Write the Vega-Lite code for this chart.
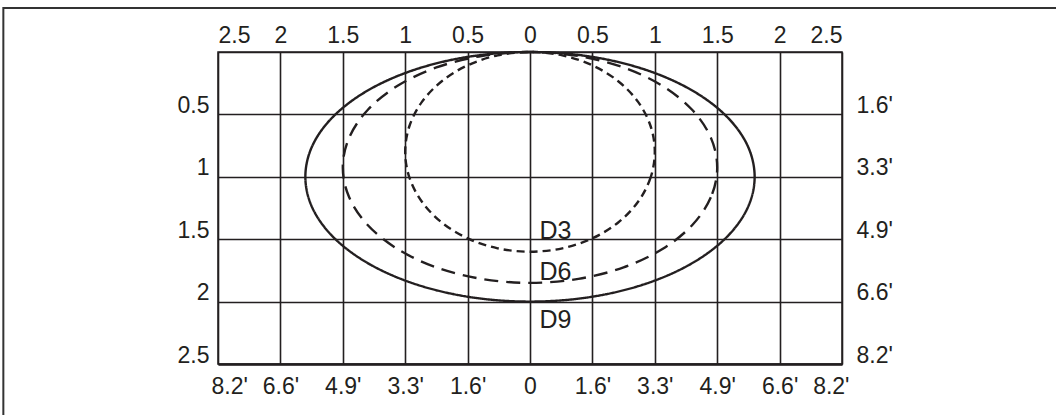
{
  "$schema": "https://vega.github.io/schema/vega-lite/v6.json",
  "width": 624,
  "height": 312,
  "autosize": {"type": "none"},
  "padding": {"left": 218, "top": 52, "right": 214, "bottom": 51},
  "background": "white",
  "config": {
    "view": {"stroke": "#231f20", "strokeWidth": 1.5},
    "axis": {
      "labelFont": "Liberation Sans",
      "labelFontSize": 23,
      "labelColor": "#231f20",
      "ticks": false,
      "domain": false,
      "title": null,
      "gridColor": "#231f20",
      "gridWidth": 1.6,
      "gridOpacity": 1
    }
  },
  "datasets": {
    "curves": [
      {"series": "D9", "i": 0, "x": 1.8, "depth": 1},
      {"series": "D9", "i": 1, "x": 1.739, "depth": 1.259},
      {"series": "D9", "i": 2, "x": 1.559, "depth": 1.5},
      {"series": "D9", "i": 3, "x": 1.273, "depth": 1.707},
      {"series": "D9", "i": 4, "x": 0.9, "depth": 1.866},
      {"series": "D9", "i": 5, "x": 0.466, "depth": 1.966},
      {"series": "D9", "i": 6, "x": 0, "depth": 2},
      {"series": "D9", "i": 7, "x": -0.466, "depth": 1.966},
      {"series": "D9", "i": 8, "x": -0.9, "depth": 1.866},
      {"series": "D9", "i": 9, "x": -1.273, "depth": 1.707},
      {"series": "D9", "i": 10, "x": -1.559, "depth": 1.5},
      {"series": "D9", "i": 11, "x": -1.739, "depth": 1.259},
      {"series": "D9", "i": 12, "x": -1.8, "depth": 1},
      {"series": "D9", "i": 13, "x": -1.739, "depth": 0.741},
      {"series": "D9", "i": 14, "x": -1.559, "depth": 0.5},
      {"series": "D9", "i": 15, "x": -1.273, "depth": 0.293},
      {"series": "D9", "i": 16, "x": -0.9, "depth": 0.134},
      {"series": "D9", "i": 17, "x": -0.466, "depth": 0.034},
      {"series": "D9", "i": 18, "x": 0, "depth": 0},
      {"series": "D9", "i": 19, "x": 0.466, "depth": 0.034},
      {"series": "D9", "i": 20, "x": 0.9, "depth": 0.134},
      {"series": "D9", "i": 21, "x": 1.273, "depth": 0.293},
      {"series": "D9", "i": 22, "x": 1.559, "depth": 0.5},
      {"series": "D9", "i": 23, "x": 1.739, "depth": 0.741},
      {"series": "D6", "i": 0, "x": 1.5, "depth": 0.925},
      {"series": "D6", "i": 1, "x": 1.449, "depth": 1.164},
      {"series": "D6", "i": 2, "x": 1.299, "depth": 1.388},
      {"series": "D6", "i": 3, "x": 1.061, "depth": 1.579},
      {"series": "D6", "i": 4, "x": 0.75, "depth": 1.726},
      {"series": "D6", "i": 5, "x": 0.388, "depth": 1.818},
      {"series": "D6", "i": 6, "x": 0, "depth": 1.85},
      {"series": "D6", "i": 7, "x": -0.388, "depth": 1.818},
      {"series": "D6", "i": 8, "x": -0.75, "depth": 1.726},
      {"series": "D6", "i": 9, "x": -1.061, "depth": 1.579},
      {"series": "D6", "i": 10, "x": -1.299, "depth": 1.388},
      {"series": "D6", "i": 11, "x": -1.449, "depth": 1.164},
      {"series": "D6", "i": 12, "x": -1.5, "depth": 0.925},
      {"series": "D6", "i": 13, "x": -1.449, "depth": 0.686},
      {"series": "D6", "i": 14, "x": -1.299, "depth": 0.463},
      {"series": "D6", "i": 15, "x": -1.061, "depth": 0.271},
      {"series": "D6", "i": 16, "x": -0.75, "depth": 0.124},
      {"series": "D6", "i": 17, "x": -0.388, "depth": 0.032},
      {"series": "D6", "i": 18, "x": 0, "depth": 0},
      {"series": "D6", "i": 19, "x": 0.388, "depth": 0.032},
      {"series": "D6", "i": 20, "x": 0.75, "depth": 0.124},
      {"series": "D6", "i": 21, "x": 1.061, "depth": 0.271},
      {"series": "D6", "i": 22, "x": 1.299, "depth": 0.463},
      {"series": "D6", "i": 23, "x": 1.449, "depth": 0.686},
      {"series": "D3", "i": 0, "x": 1, "depth": 0.8},
      {"series": "D3", "i": 1, "x": 0.966, "depth": 1.007},
      {"series": "D3", "i": 2, "x": 0.866, "depth": 1.2},
      {"series": "D3", "i": 3, "x": 0.707, "depth": 1.366},
      {"series": "D3", "i": 4, "x": 0.5, "depth": 1.493},
      {"series": "D3", "i": 5, "x": 0.259, "depth": 1.573},
      {"series": "D3", "i": 6, "x": 0, "depth": 1.6},
      {"series": "D3", "i": 7, "x": -0.259, "depth": 1.573},
      {"series": "D3", "i": 8, "x": -0.5, "depth": 1.493},
      {"series": "D3", "i": 9, "x": -0.707, "depth": 1.366},
      {"series": "D3", "i": 10, "x": -0.866, "depth": 1.2},
      {"series": "D3", "i": 11, "x": -0.966, "depth": 1.007},
      {"series": "D3", "i": 12, "x": -1, "depth": 0.8},
      {"series": "D3", "i": 13, "x": -0.966, "depth": 0.593},
      {"series": "D3", "i": 14, "x": -0.866, "depth": 0.4},
      {"series": "D3", "i": 15, "x": -0.707, "depth": 0.234},
      {"series": "D3", "i": 16, "x": -0.5, "depth": 0.107},
      {"series": "D3", "i": 17, "x": -0.259, "depth": 0.027},
      {"series": "D3", "i": 18, "x": 0, "depth": 0},
      {"series": "D3", "i": 19, "x": 0.259, "depth": 0.027},
      {"series": "D3", "i": 20, "x": 0.5, "depth": 0.107},
      {"series": "D3", "i": 21, "x": 0.707, "depth": 0.234},
      {"series": "D3", "i": 22, "x": 0.866, "depth": 0.4},
      {"series": "D3", "i": 23, "x": 0.966, "depth": 0.593}
    ],
    "labels": [
      {"name": "D3", "x": 0.076, "depth": 1.5},
      {"name": "D6", "x": 0.076, "depth": 1.825},
      {"name": "D9", "x": 0.076, "depth": 2.215}
    ]
  },
  "resolve": {"axis": {"x": "independent", "y": "independent"}},
  "layer": [
    {
      "data": {"values": [{}]},
      "mark": {"type": "rect", "filled": false, "stroke": "#333333", "strokeWidth": 2},
      "encoding": {
        "x": {"datum": -4.22, "type": "quantitative", "scale": {"domain": [-2.5, 2.5], "nice": false, "zero": false}, "axis": null},
        "x2": {"datum": 4.6},
        "y": {"datum": -0.353, "type": "quantitative", "scale": {"domain": [0, 2.5], "reverse": true, "nice": false, "zero": false}, "axis": null},
        "y2": {"datum": 3.2}
      }
    },
    {
      "data": {"name": "curves"},
      "mark": {"type": "line", "interpolate": "cardinal-closed", "strokeWidth": 2.4, "color": "#231f20"},
      "encoding": {
        "x": {
          "field": "x", "type": "quantitative",
          "scale": {"domain": [-2.5, 2.5], "nice": false, "zero": false},
          "axis": {
            "orient": "top",
            "values": [-2.5, -2, -1.5, -1, -0.5, 0, 0.5, 1, 1.5, 2, 2.5],
            "labelExpr": "format(abs(datum.value), '~g')",
            "grid": true,
            "labelPadding": 5,
            "labelBaseline": "bottom"
          }
        },
        "y": {
          "field": "depth", "type": "quantitative",
          "scale": {"domain": [0, 2.5], "reverse": true, "nice": false, "zero": false},
          "axis": {
            "orient": "left",
            "values": [0, 0.5, 1, 1.5, 2, 2.5],
            "labelExpr": "datum.value == 0 ? '' : format(datum.value, '~g')",
            "grid": true,
            "labelPadding": 9,
            "labelBaseline": "alphabetic",
            "labelOffset": -2
          }
        },
        "order": {"field": "i", "type": "quantitative"},
        "strokeDash": {
          "field": "series", "type": "nominal",
          "scale": {"domain": ["D3", "D6", "D9"], "range": [[8, 5], [14, 8], [1, 0]]},
          "legend": null
        }
      }
    },
    {
      "data": {"name": "labels"},
      "mark": {"type": "text", "align": "left", "baseline": "alphabetic", "font": "Liberation Sans", "fontSize": 25, "color": "#231f20"},
      "encoding": {
        "x": {
          "field": "x", "type": "quantitative",
          "scale": {"domain": [-2.5, 2.5], "nice": false, "zero": false},
          "axis": {
            "orient": "bottom",
            "values": [-2.5, -2, -1.5, -1, -0.5, 0, 0.5, 1, 1.5, 2, 2.5],
            "labelExpr": "abs(datum.value) == 0 ? '0' : abs(datum.value) == 0.5 ? \"1.6'\" : abs(datum.value) == 1 ? \"3.3'\" : abs(datum.value) == 1.5 ? \"4.9'\" : abs(datum.value) == 2 ? \"6.6'\" : \"8.2'\"",
            "grid": false,
            "labelPadding": 11,
            "labelBaseline": "top",
            "labelFlush": true,
            "labelFlushOffset": 7,
            "domain": true,
            "domainWidth": 2.5,
            "domainColor": "#231f20"
          }
        },
        "y": {
          "field": "depth", "type": "quantitative",
          "scale": {"domain": [0, 2.5], "reverse": true, "nice": false, "zero": false},
          "axis": {
            "orient": "right",
            "values": [0.5, 1, 1.5, 2, 2.5],
            "labelExpr": "datum.value == 0.5 ? \"1.6'\" : datum.value == 1 ? \"3.3'\" : datum.value == 1.5 ? \"4.9'\" : datum.value == 2 ? \"6.6'\" : \"8.2'\"",
            "grid": false,
            "labelPadding": 14,
            "labelAlign": "left",
            "labelBaseline": "alphabetic",
            "labelOffset": -2
          }
        },
        "text": {"field": "name"}
      }
    }
  ]
}
